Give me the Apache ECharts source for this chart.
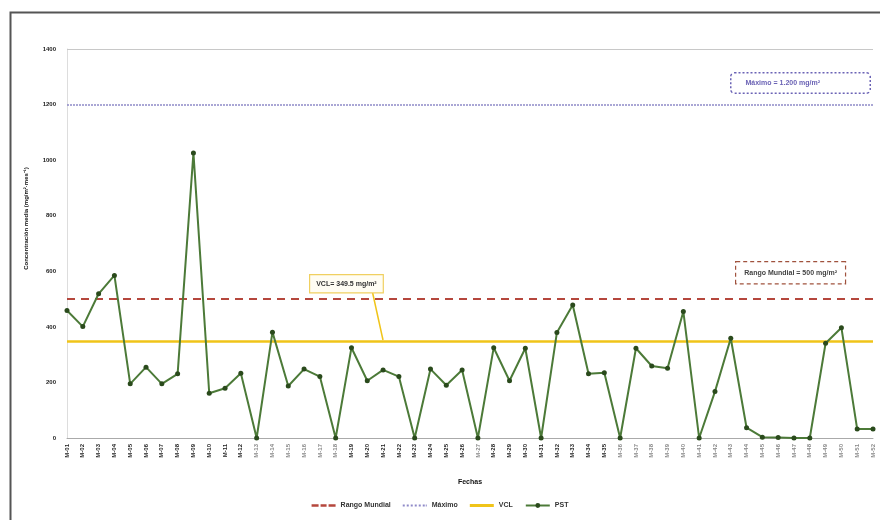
<!DOCTYPE html>
<html><head><meta charset="utf-8">
<script src="https://cdn.jsdelivr.net/npm/echarts@6/dist/echarts.min.js"></script>
<style>html,body{margin:0;padding:0;background:#fff}#c{width:880px;height:520px}</style>
</head><body><div id="c"></div>
<script>
const xLabels = ["M-01","M-02","M-03","M-04","M-05","M-06","M-07","M-08","M-09","M-10","M-11","M-12","M-13",
  "M-14","M-15","M-16","M-17","M-18","M-19","M-20","M-21","M-22","M-23","M-24","M-25","M-26",
  "M-27","M-28","M-29","M-30","M-31","M-32","M-33","M-34","M-35","M-36","M-37","M-38","M-39",
  "M-40","M-41","M-42","M-43","M-44","M-45","M-46","M-47","M-48","M-49","M-50","M-51","M-52"];
const pstValues = [459,401,519,585,195,255,195,231,1026,161,179,233,0,381,187,248,221,0,325,206,245,221,0,
  248,190,245,0,325,206,323,0,380,479,231,235,0,323,259,251,455,0,167,359,37,3,2,0,0,341,397,32,32];
const greyLabels = ["M-13","M-14","M-15","M-16","M-17","M-18","M-27","M-36","M-37","M-38","M-39","M-40",
  "M-41","M-42","M-43","M-44","M-45","M-46","M-47","M-48","M-49","M-50","M-51","M-52"];
const mundialValue = 500;
const maximoValue = 1200;
const vclValue = 349.5;
const topValue = 1400;
const legendNames = ["Rango Mundial","Máximo","VCL","PST"];
const boxTexts = ["Máximo = 1.200 mg/m²","Rango Mundial = 500 mg/m²","VCL= 349.5 mg/m²"];

const FONT = "Liberation Sans";
const dashIcon = 'path://M0,0h7v2.4h-7z M9,0h6v2.4h-6z M17,0h7v2.4h-7z';
const dotIcon = 'path://M0,0h2v2h-2z M4,0h2v2h-2z M8,0h2v2h-2z M12,0h2v2h-2z M16,0h2v2h-2z M20,0h2v2h-2z M23,0h1v2h-1z';
const solidIcon = 'path://M0,0h24v3h-24z';
const chart = echarts.init(document.getElementById('c'), null, {renderer:'canvas'});
chart.setOption({
  backgroundColor:'#fff',
  animation:false,
  textStyle:{fontFamily:FONT},
  grid:{left:67, right:7, top:49, bottom:82},
  legend:{
    bottom:6, left:'center', itemWidth:24, itemHeight:6, itemGap:12,
    textStyle:{fontSize:7, fontWeight:'bold', color:'#333', fontFamily:FONT},
    data:[{name:legendNames[0], icon:dashIcon},{name:legendNames[1], icon:dotIcon},
          {name:legendNames[2], icon:solidIcon},{name:legendNames[3]}]
  },
  xAxis:{
    type:'category', data:xLabels, boundaryGap:false,
    name:'Fechas', nameLocation:'middle', nameGap:41,
    nameTextStyle:{fontSize:7, fontWeight:'bold', color:'#111'},
    axisLine:{lineStyle:{color:'#aaa', width:1}},
    axisTick:{show:false},
    axisLabel:{rotate:90, interval:0, fontSize:6, fontWeight:'bold', margin:6,
      color:function(v){return greyLabels.indexOf(v)>=0 ? '#888' : '#222';}}
  },
  yAxis:{
    type:'value', min:0, max:topValue, interval:200,
    name:'Concentración media (mg/m²·mes⁻¹)', nameLocation:'middle', nameGap:38,
    nameTextStyle:{fontSize:6, fontWeight:'bold', color:'#111', padding:[0,0,0,50]},
    axisLine:{show:true, lineStyle:{color:'#ddd'}},
    axisTick:{show:false},
    splitLine:{show:false},
    axisLabel:{fontSize:6, fontWeight:'bold', color:'#222', margin:11,
      formatter:function(v){return String(v);}}
  },
  series:[
    {name:legendNames[0], type:'line', data:[], symbol:'none',
      lineStyle:{color:'#b5473d', type:[7,5], width:2}, itemStyle:{color:'#b5473d'},
      markLine:{silent:true, symbol:'none', label:{show:false},
        lineStyle:{color:'#b5473d', type:[8,6], width:2}, data:[{yAxis:mundialValue}]}},
    {name:legendNames[1], type:'line', data:[], symbol:'none',
      lineStyle:{color:'#8f8ac8', type:[2,2], width:1.5}, itemStyle:{color:'#8f8ac8'},
      markLine:{silent:true, symbol:'none', label:{show:false},
        lineStyle:{color:'#8f8ac8', type:[2,1], width:1.5},
        data:[{yAxis:maximoValue}]}},
    {name:legendNames[2], type:'line', data:[], symbol:'none',
      lineStyle:{color:'#f0c419', width:2.5}, itemStyle:{color:'#f0c419'},
      markLine:{silent:true, symbol:'none', label:{show:false},
        lineStyle:{color:'#f0c419', type:'solid', width:2.5}, data:[{yAxis:vclValue}]}},
    {name:legendNames[3], type:'line', data:pstValues, symbol:'circle', symbolSize:5,
      lineStyle:{color:'#4c7a38', width:2}, itemStyle:{color:'#2a4a1c'}, z:5,
      markLine:{silent:true, symbol:'none', label:{show:false},
        lineStyle:{color:'#c8c8c8', type:'solid', width:1}, data:[{yAxis:topValue}]}}
  ],
  graphic:[
    {type:'rect', left:8, top:10, shape:{width:874, height:512},
      style:{fill:'none', stroke:'#555', lineWidth:2}, silent:true},
    {type:'text', left:730, top:72, z:10,
      style:{text:boxTexts[0], fontSize:7, fontWeight:'bold', fill:'#6b63b5', fontFamily:FONT,
        backgroundColor:'#fff', borderColor:'#6b63b5', borderWidth:1.5, borderDash:[2,2], borderRadius:3,
        padding:[6,14,6,14], width:110}},
    {type:'text', left:735, top:261, z:10,
      style:{text:boxTexts[1], fontSize:7, fontWeight:'bold', fill:'#444', fontFamily:FONT,
        backgroundColor:'#fff', borderColor:'#a0523d', borderWidth:1.2, borderDash:[4,3],
        padding:[7,8,7,8]}},
    {type:'line', shape:{x1:372, y1:290, x2:383, y2:340}, z:10,
      style:{stroke:'#f0c419', lineWidth:1.5}},
    {type:'text', left:309, top:274, z:10,
      style:{text:boxTexts[2], fontSize:7, fontWeight:'bold', fill:'#333', fontFamily:FONT,
        backgroundColor:'#fffdf3', borderColor:'#f0d060', borderWidth:1.2,
        padding:[5,6,5,6]}}
  ]
});
</script></body></html>
